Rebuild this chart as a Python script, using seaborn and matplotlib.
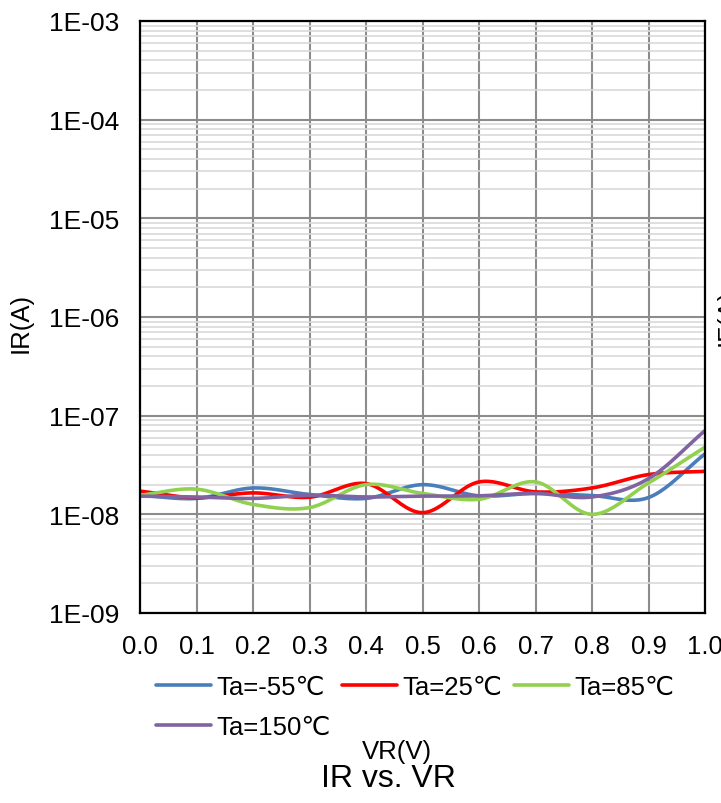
import numpy as np
import pandas as pd
import matplotlib
matplotlib.use("Agg")
import matplotlib.pyplot as plt
import seaborn as sns
from matplotlib.ticker import FixedLocator, FixedFormatter, NullFormatter

# ---- data ----
vr = [0.0, 0.1, 0.2, 0.3, 0.4, 0.5, 0.6, 0.7, 0.8, 0.9, 1.0]
ir_m55 = [1.56e-8, 1.45e-8, 1.85e-8, 1.59e-8, 1.45e-8, 2.00e-8, 1.54e-8, 1.63e-8, 1.55e-8, 1.48e-8, 4.10e-8]
ir_25 = [1.72e-8, 1.47e-8, 1.65e-8, 1.49e-8, 2.05e-8, 1.04e-8, 2.13e-8, 1.69e-8, 1.85e-8, 2.53e-8, 2.73e-8]
ir_85 = [1.56e-8, 1.80e-8, 1.26e-8, 1.17e-8, 2.00e-8, 1.63e-8, 1.42e-8, 2.13e-8, 1.00e-8, 2.08e-8, 4.80e-8]
ir_150 = [1.53e-8, 1.50e-8, 1.45e-8, 1.56e-8, 1.50e-8, 1.53e-8, 1.54e-8, 1.63e-8, 1.50e-8, 2.30e-8, 7.06e-8]
series_names = ["Ta=-55℃", "Ta=25℃", "Ta=85℃", "Ta=150℃"]
series_colors = ["#4a7ebb", "#ff0000", "#92d050", "#8064a2"]
ytick_vals = [1e-9, 1e-8, 1e-7, 1e-6, 1e-5, 1e-4, 1e-3]
ytick_labels = ["1E-09", "1E-08", "1E-07", "1E-06", "1E-05", "1E-04", "1E-03"]
xtick_vals = vr
xtick_labels = ["0.0", "0.1", "0.2", "0.3", "0.4", "0.5", "0.6", "0.7", "0.8", "0.9", "1.0"]


def smooth(x, y, n=24):
    """Catmull-Rom smoothing (Excel-like smoothed line) in log space."""
    x = np.asarray(x, float)
    ly = np.log10(np.asarray(y, float))
    px = np.concatenate([[2 * x[0] - x[1]], x, [2 * x[-1] - x[-2]]])
    py = np.concatenate([[2 * ly[0] - ly[1]], ly, [2 * ly[-1] - ly[-2]]])
    xs, ys = [], []
    for i in range(1, len(px) - 2):
        t = np.linspace(0, 1, n, endpoint=False)
        for P, out in ((px, xs), (py, ys)):
            p0, p1, p2, p3 = P[i - 1], P[i], P[i + 1], P[i + 2]
            out.append(0.5 * ((2 * p1) + (-p0 + p2) * t
                              + (2 * p0 - 5 * p1 + 4 * p2 - p3) * t ** 2
                              + (-p0 + 3 * p1 - 3 * p2 + p3) * t ** 3))
    xs.append([x[-1]])
    ys.append([ly[-1]])
    return np.concatenate(xs), 10 ** np.concatenate(ys)


frames = []
for name, vals in zip(series_names, [ir_m55, ir_25, ir_85, ir_150]):
    sx, sy = smooth(vr, vals)
    frames.append(pd.DataFrame({"VR": sx, "IR": sy, "series": name}))
df = pd.concat(frames, ignore_index=True)

sns.set_theme(style="white")
plt.rcParams["font.family"] = ["Liberation Sans", "DejaVu Sans"]
plt.rcParams["text.color"] = "black"

fig = plt.figure(figsize=(7.21, 8.04), dpi=100)
ax = fig.add_axes([140 / 721, 1 - 614 / 804, 565 / 721, 592 / 804])

sns.lineplot(data=df, x="VR", y="IR", hue="series", hue_order=series_names,
             palette=series_colors, sort=False, estimator=None, units="series",
             linewidth=2.6, ax=ax, legend=True)

ax.set_yscale("log")
ax.set_ylim(1e-9, 1e-3)
ax.set_xlim(0, 1.0)

ax.yaxis.set_major_locator(FixedLocator(ytick_vals))
ax.yaxis.set_major_formatter(FixedFormatter(ytick_labels))
minor = [m * 10.0 ** e for e in range(-9, -3) for m in range(2, 10)]
ax.yaxis.set_minor_locator(FixedLocator(minor))
ax.yaxis.set_minor_formatter(NullFormatter())
ax.xaxis.set_major_locator(FixedLocator(xtick_vals))
ax.xaxis.set_major_formatter(FixedFormatter(xtick_labels))

ax.grid(True, which="major", axis="both", color="#8c8c8c", linewidth=1.5)
ax.grid(True, which="minor", axis="y", color="#d9d9d9", linewidth=1.2)
ax.set_axisbelow(True)
for s in ax.spines.values():
    s.set_visible(True)
    s.set_color("black")
    s.set_linewidth(1.6)
ax.tick_params(axis="both", which="both", length=0, colors="black")
ax.tick_params(axis="y", pad=15, labelsize=19)
ax.tick_params(axis="x", pad=15, labelsize=18.5)
ax.set_xlabel("")
ax.set_ylabel("")

handles, labels = ax.get_legend_handles_labels()
ax.get_legend().remove()
order = [0, 3, 1, 2]
leg = fig.legend([handles[i] for i in order], [labels[i] for i in order],
                 loc="upper left", bbox_to_anchor=(156 / 721, 1 - 676 / 804),
                 ncol=3, frameon=False, fontsize=18.5, handlelength=2.15,
                 handletextpad=0.2, columnspacing=0.45, borderaxespad=0,
                 borderpad=0, labelspacing=0.62)
for t in leg.get_texts():
    t.set_color("black")

fig.text(21 / 721, 1 - 323 / 804, "IR(A)", rotation=90, ha="center", va="center",
         fontsize=18.5, color="black")
fig.text(397 / 721, 1 - 752 / 804, "VR(V)", ha="center", va="center",
         fontsize=18.5, color="black")
fig.text(388 / 721, 1 - 779 / 804, "IR vs. VR", ha="center", va="center",
         fontsize=23, color="black")
fig.text(716 / 721, 1 - 317 / 804, "IF(A)", rotation=90, ha="left", va="center",
         fontsize=18.5, color="black")

fig.savefig("out.png", dpi=100)
